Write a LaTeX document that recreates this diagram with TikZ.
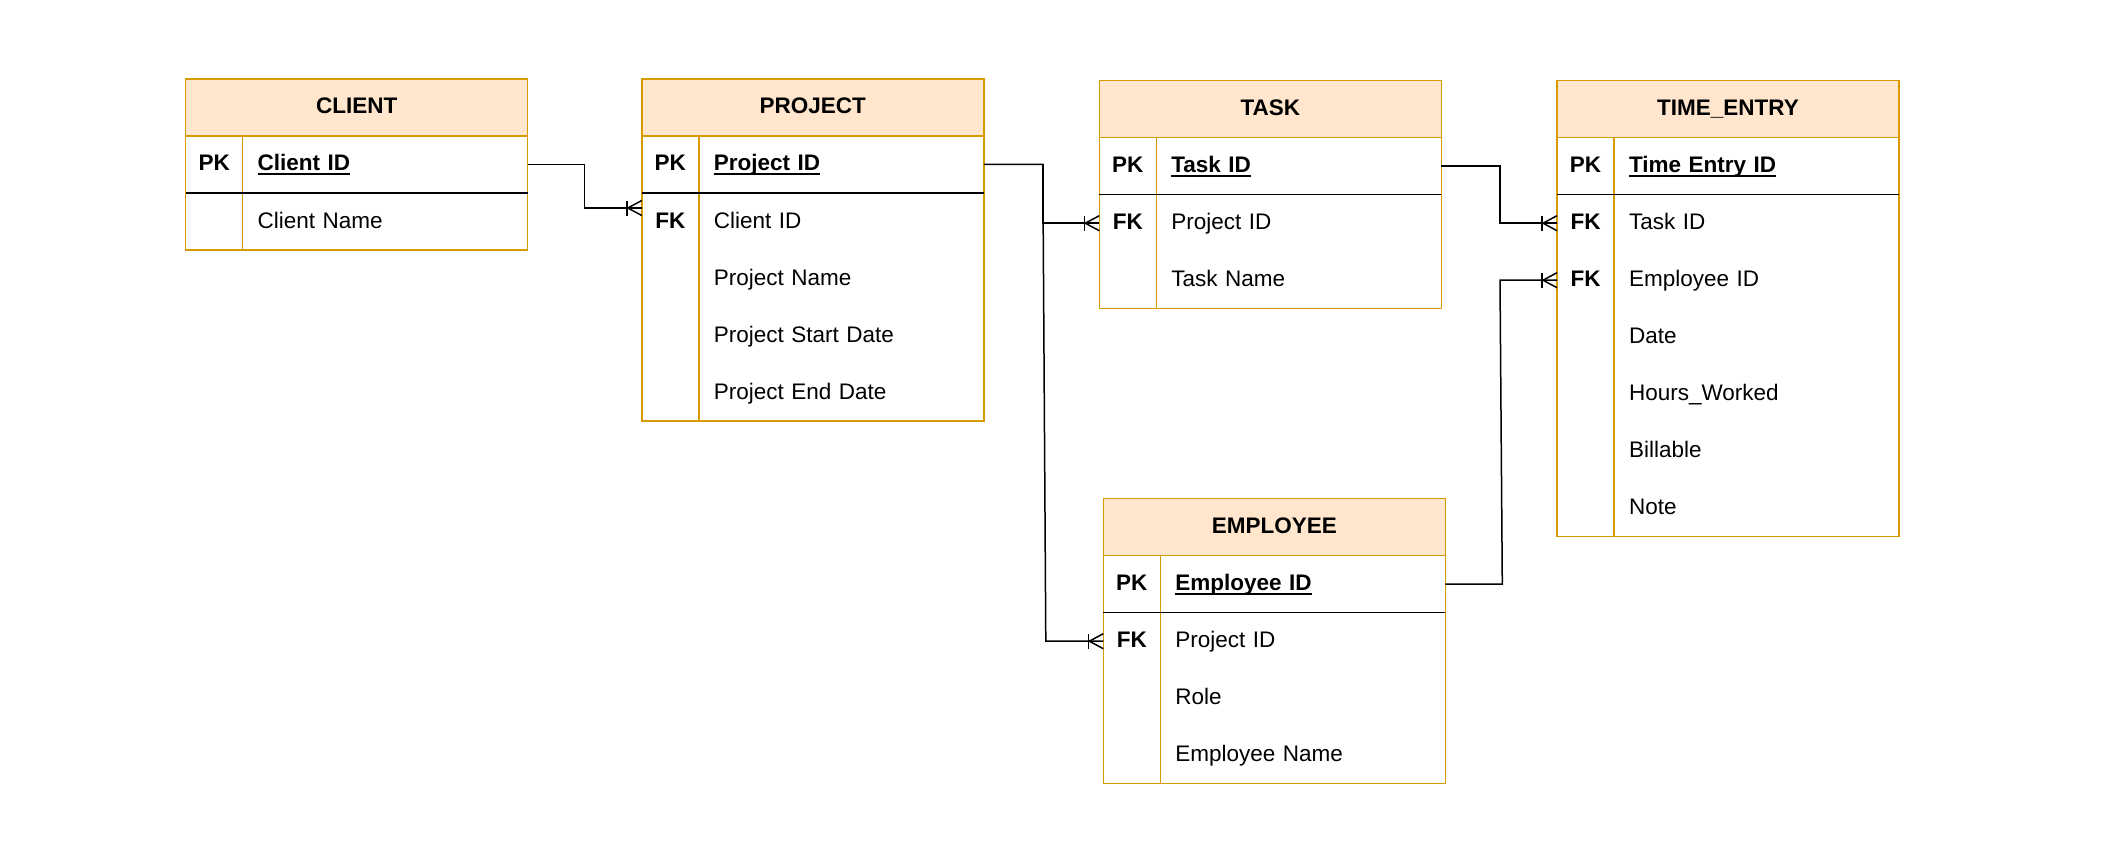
\documentclass[tikz,border=0pt]{standalone}
\usepackage{fontspec}
\setmainfont{Liberation Sans}
\usetikzlibrary{positioning,calc}

\definecolor{erline}{HTML}{D79B00}
\definecolor{erfill}{HTML}{FFE6CC}

\newcommand{\erfont}{\fontsize{22.5}{27}\selectfont}

\tikzset{
    head/.style={
                draw=erline,
                fill=erfill,
                line width=1.5pt,
                anchor=north west,
                minimum width=342pt,
                minimum height=57pt,
                inner sep=0pt,
                outer sep=0pt,
                font=\erfont\bfseries,
                text height=18pt,
                text depth=5pt
            },
        tbody/.style={
                draw=erline,
                line width=1.5pt,
                anchor=north west,
                minimum width=342pt,
                inner sep=0pt,
                outer sep=0pt
            },
        key/.style={
                anchor=north west,
                minimum width=57pt,
                minimum height=57pt,
                inner sep=0pt,
                outer sep=0pt,
                font=\erfont\bfseries,
                text height=18pt,
                text depth=5pt
            },
        field/.style={
                text width=255pt,
                inner xsep=15pt,
                inner ysep=0pt,
                outer sep=0pt,
                minimum height=57pt,
                align=left,
                font=\erfont,
                text height=18pt,
                text depth=5pt
            },
        divider/.style={draw=erline, line width=1.5pt},
        pkline/.style={draw=black, line width=1.5pt},
        conn/.style={draw=black, line width=1.5pt},
}

% underlined key name
\newcommand{\pkname}[1]{\setbox0\hbox{#1}\rlap{\rule[-4pt]{\wd0}{1.5pt}}\box0}

% table: name, top left, title, rows, key/field list
\newcommand{\erentity}[5]{%
  \node[head] (#1) at (#2) {#3};
  \node[tbody, minimum height=#4*57pt] (#1-body) at (#1.south west) {};
  \draw[divider] ([xshift=57pt]#1-body.north west) -- ([xshift=57pt]#1-body.south west);
  \draw[pkline] ([yshift=-57pt]#1-body.north west) -- ([yshift=-57pt]#1-body.north east);
  \foreach \kname/\fname [count=\i] in {#5} {
    \pgfmathsetmacro\rowy{-57*(\i-1)}
    \node[key] (#1-k\i) at ([yshift=\rowy pt]#1-body.north west) {\kname};
    \node[field, right=0pt of #1-k\i] (#1-f\i) {\ifnum\i=1 \pkname{\bfseries\fname}\else\fname\fi};
  }
}

% crow's foot with bar (one or many)
\newcommand{\crowfoot}[1]{%
  \draw[conn] ([xshift=-15pt,yshift=-7.5pt]#1) -- ++(0,15);
  \draw[conn] ([yshift=7.5pt]#1) -- ([xshift=-14pt]#1) -- ([yshift=-7.5pt]#1);
}

\begin{document}
\begin{tikzpicture}[x=1pt, y=1pt]
  \useasboundingbox (0,0) rectangle (2126,-864);
  % Tables
  \erentity{client}{185.7,-79}{CLIENT}{2}{PK/Client ID, /Client Name}
  \erentity{project}{641.8,-79}{PROJECT}{5}{PK/Project ID, FK/Client ID, /Project Name, /Project Start Date, /Project End Date}
  \erentity{task}{1099.3,-80.7}{TASK}{3}{PK/Task ID, FK/Project ID, /Task Name}
  \erentity{time}{1557,-80.7}{TIME\_ENTRY}{7}{PK/Time Entry ID, FK/Task ID, FK/Employee ID, /Date, /Hours\_Worked, /Billable, /Note}
  \erentity{employee}{1103.3,-498.7}{EMPLOYEE}{4}{PK/Employee ID, FK/Project ID, /Role, /Employee Name}
  % Relations
  \coordinate (client-in) at ([yshift=13.5pt]project-k2.west);
  \draw[conn] (client-f1.east) -- ++(56.7,0) |- (client-in);
  \crowfoot{client-in}
  \draw[conn] (project-f1.east) -- ++(59,0) |- (task-k2.west);
  \crowfoot{task-k2.west}
  \draw[conn] (project-f1.east) -- ++(59,0) -- ($(employee-k2.west)+(-57.5,0)$) -- (employee-k2.west);
  \crowfoot{employee-k2.west}
  \draw[conn] (task-f1.east) -- ++(58.7,0) |- (time-k2.west);
  \crowfoot{time-k2.west}
  \draw[conn] (employee-f1.east) -- ++(57,0) -- ($(time-k3.west)+(-57,0)$) -- (time-k3.west);
  \crowfoot{time-k3.west}
\end{tikzpicture}
\end{document}
